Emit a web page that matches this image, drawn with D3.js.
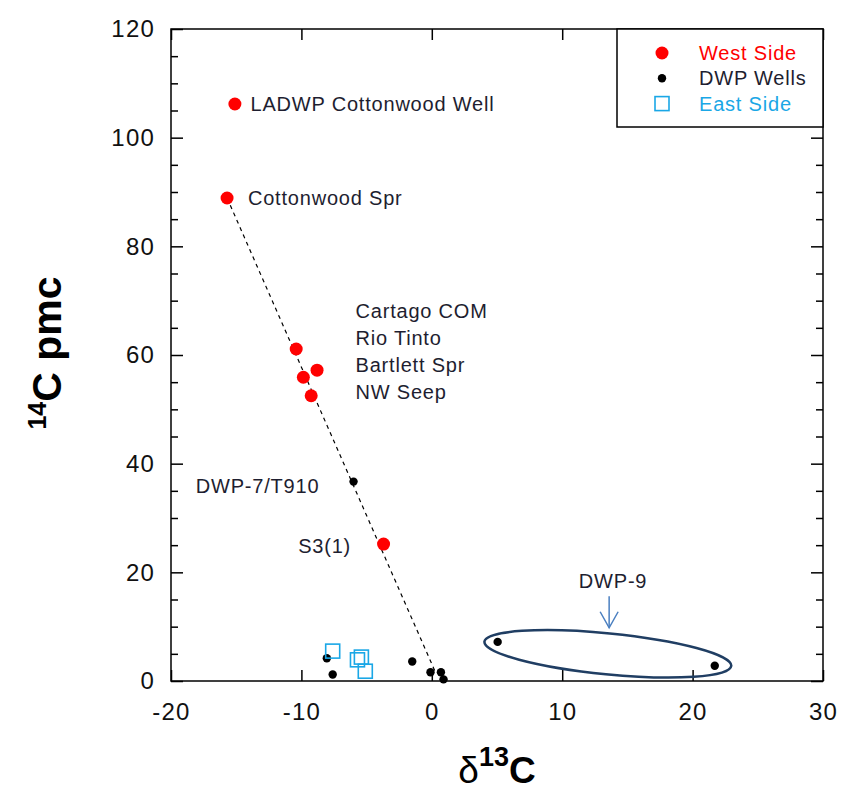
<!DOCTYPE html>
<html>
<head>
<meta charset="utf-8">
<script src="https://cdn.jsdelivr.net/npm/d3@7"></script>
<style>
  body { margin: 0; background: #fff; }
  svg text { font-family: Arial, "Liberation Sans", sans-serif; }
</style>
</head>
<body>
<svg id="chart" width="841" height="792"></svg>
<script>
// data: [d13C, 14C pmc]
const westSide = [
  [-15.1, 106.2], [-15.7, 88.9], [-10.4, 61.1], [-8.8, 57.2],
  [-9.85, 55.9], [-9.25, 52.5], [-3.7, 25.2]
];
const dwpWells = [
  [-6.0, 36.7], [-8.05, 4.2], [-7.6, 1.2], [-1.5, 3.6],
  [-0.1, 1.6], [0.7, 1.6], [0.9, 0.3], [5.05, 7.2], [21.7, 2.8]
];
const eastSide = [[-7.6, 5.5], [-5.7, 3.9], [-5.4, 4.4], [-5.1, 1.8]];
const trendLine = [[-15.7, 88.9], [0.3, 1.5]];
const xTicks = [-20, -10, 0, 10, 20, 30];
const yTicks = [0, 20, 40, 60, 80, 100, 120];
const yMinor = d3.range(0, 121, 5).filter(v => v % 20 !== 0);

const labels = [
  { text: 'LADWP Cottonwood Well', at: [-13.9, 106.2] },
  { text: 'Cottonwood Spr', at: [-14.1, 88.9] },
  { text: 'Cartago COM', at: [-5.85, 68.1] },
  { text: 'Rio Tinto', at: [-5.85, 63.2] },
  { text: 'Bartlett Spr', at: [-5.85, 58.1] },
  { text: 'NW Seep', at: [-5.85, 53.2] },
  { text: 'DWP-7/T910', at: [-18.1, 35.8] },
  { text: 'S3(1)', at: [-10.25, 24.8] }
];
const legendItems = [
  { name: 'West Side', color: '#ff0000', kind: 'big' },
  { name: 'DWP Wells', color: '#000000', kind: 'small' },
  { name: 'East Side', color: '#1aa7e6', kind: 'square' }
];

const margin = { top: 29, right: 18, bottom: 111, left: 171 };
const width = 841 - margin.left - margin.right;
const height = 792 - margin.top - margin.bottom;

const svg = d3.select('#chart');
const g = svg.append('g').attr('transform', `translate(${margin.left},${margin.top})`);

const x = d3.scaleLinear().domain([-20, 30]).range([0, width]);
const y = d3.scaleLinear().domain([0, 120]).range([height, 0]);

// axes, ticks pointing inward
const styleAxis = sel => {
  sel.select('.domain').remove();
  sel.selectAll('.tick line').attr('stroke', '#000').attr('stroke-width', 1.5);
  sel.selectAll('.tick text')
    .attr('fill', '#111').style('font-size', '24px').style('letter-spacing', '1.2px')
    .style('font-family', 'Arial, "Liberation Sans", sans-serif');
};
const plain = d => String(d);

g.append('g').attr('transform', `translate(0,${height})`)
  .call(d3.axisBottom(x).tickValues(xTicks).tickSize(-11).tickPadding(22).tickFormat(plain))
  .call(styleAxis);
g.append('g')
  .call(d3.axisTop(x).tickValues(xTicks).tickSize(-11).tickFormat(''))
  .call(styleAxis);
g.append('g')
  .call(d3.axisLeft(y).tickValues(yTicks).tickSize(-12).tickPadding(16).tickFormat(plain))
  .call(styleAxis);
g.append('g')
  .call(d3.axisLeft(y).tickValues(yMinor).tickSize(-7).tickFormat(''))
  .call(styleAxis);
g.append('g').attr('transform', `translate(${width},0)`)
  .call(d3.axisRight(y).tickValues(yTicks).tickSize(-12).tickFormat(''))
  .call(styleAxis);
g.append('g').attr('transform', `translate(${width},0)`)
  .call(d3.axisRight(y).tickValues(yMinor).tickSize(-7).tickFormat(''))
  .call(styleAxis);

g.append('rect')
  .attr('width', width).attr('height', height)
  .attr('fill', 'none').attr('stroke', '#000').attr('stroke-width', 1.5);

// dashed trend line
const line = d3.line().x(d => x(d[0])).y(d => y(d[1]));
g.append('path')
  .attr('d', line(trendLine))
  .attr('fill', 'none')
  .attr('stroke', '#000')
  .attr('stroke-width', 1.2)
  .attr('stroke-dasharray', '4,4');

// DWP-9 ellipse
const ell = { cx: 13.5, cy: 5.0, rx: 124, ry: 20.5, angle: 5.6 };
g.append('ellipse')
  .attr('transform', `translate(${x(ell.cx)},${y(ell.cy)}) rotate(${ell.angle})`)
  .attr('rx', ell.rx).attr('ry', ell.ry)
  .attr('fill', 'none').attr('stroke', '#203e63').attr('stroke-width', 2.5);

// arrow
const arrowX = x(13.6);
const arrowTop = y(15.6), arrowBot = y(9.8);
const arrow = g.append('g').attr('stroke', '#4a7fc0').attr('stroke-width', 1.5).attr('fill', 'none');
arrow.append('line').attr('x1', arrowX).attr('x2', arrowX).attr('y1', arrowTop).attr('y2', arrowBot);
arrow.append('path').attr('d', `M${arrowX - 9},${arrowBot - 16} L${arrowX},${arrowBot} L${arrowX + 9},${arrowBot - 16}`);
g.append('text')
  .attr('x', x(13.9)).attr('y', y(18.4))
  .attr('text-anchor', 'middle').attr('dy', '0.35em')
  .style('font-size', '20px').style('letter-spacing', '0.8px').attr('fill', '#1e1e30')
  .text('DWP-9');

// points
g.selectAll('.west').data(westSide).join('circle')
  .attr('cx', d => x(d[0])).attr('cy', d => y(d[1]))
  .attr('r', 6.5).attr('fill', '#ff0000');
g.selectAll('.wells').data(dwpWells).join('circle')
  .attr('cx', d => x(d[0])).attr('cy', d => y(d[1]))
  .attr('r', 4.2).attr('fill', '#000');
g.selectAll('.east').data(eastSide).join('rect')
  .attr('x', d => x(d[0]) - 7).attr('y', d => y(d[1]) - 7)
  .attr('width', 14).attr('height', 14)
  .attr('fill', 'none').attr('stroke', '#1aa7e6').attr('stroke-width', 1.6);

// labels
g.selectAll('.lbl').data(labels).join('text')
  .attr('x', d => x(d.at[0])).attr('y', d => y(d.at[1]))
  .attr('dy', '0.35em')
  .style('font-size', '20px').style('letter-spacing', '0.8px').attr('fill', '#1e1e30')
  .text(d => d.text);

// legend
const lg = g.append('g').attr('transform', `translate(${width - 206},0)`);
lg.append('rect').attr('width', 206).attr('height', 98)
  .attr('fill', '#fff').attr('stroke', '#000').attr('stroke-width', 1.5);
legendItems.forEach((d, i) => {
  const cy = 24 + i * 25.3;
  if (d.kind === 'square') {
    lg.append('rect').attr('x', 45 - 7).attr('y', cy - 7).attr('width', 14).attr('height', 14)
      .attr('fill', 'none').attr('stroke', d.color).attr('stroke-width', 1.6);
  } else {
    lg.append('circle').attr('cx', 45).attr('cy', cy).attr('r', d.kind === 'big' ? 6.5 : 4.2).attr('fill', d.color);
  }
  lg.append('text').attr('x', 82).attr('y', cy).attr('dy', '0.35em')
    .style('font-size', '20px').style('letter-spacing', '0.8px')
    .attr('fill', d.kind === 'small' ? '#1e1e30' : d.color)
    .text(d.name);
});

// axis titles
const yt = svg.append('text')
  .attr('transform', `translate(61,353) rotate(-90)`)
  .attr('text-anchor', 'middle')
  .style('font-weight', 'bold').attr('fill', '#000');
yt.append('tspan').style('font-size', '25px').attr('dy', '-15').text('14');
yt.append('tspan').style('font-size', '41px').attr('dy', '15').text('C pmc');

const xt = svg.append('text')
  .attr('x', margin.left + width / 2).attr('y', 783)
  .attr('text-anchor', 'middle').attr('fill', '#000');
xt.append('tspan').style('font-size', '37px').text('δ');
xt.append('tspan').style('font-size', '27px').style('font-weight', 'bold').attr('dy', '-17').text('13');
xt.append('tspan').style('font-size', '37px').style('font-weight', 'bold').attr('dy', '17').text('C');
</script>
</body>
</html>
